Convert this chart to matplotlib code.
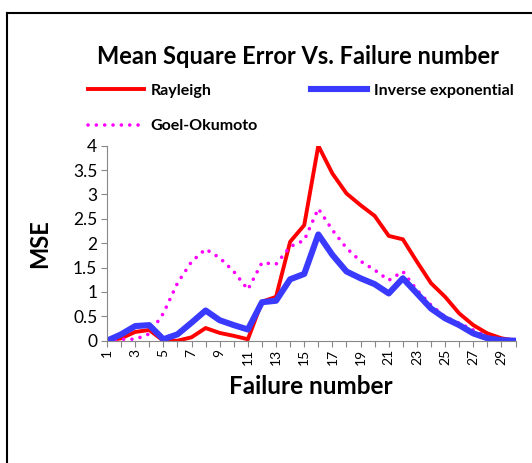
import numpy as np
import matplotlib
matplotlib.use("Agg")
import matplotlib.pyplot as plt
from matplotlib.lines import Line2D

plt.rcParams['font.family'] = ['Lato', 'DejaVu Sans']

failures = list(range(1, 31))
rayleigh = [0, 0.05, 0.18, 0.22, 0, 0, 0.07, 0.26, 0.16, 0.1, 0.03, 0.8, 0.9, 2.03, 2.37, 4.0,
            3.43, 3.02, 2.78, 2.56, 2.15, 2.08, 1.62, 1.18, 0.9, 0.56, 0.32, 0.15, 0.05, 0]
inv_exp = [0, 0.13, 0.3, 0.32, 0.03, 0.13, 0.37, 0.62, 0.42, 0.32, 0.23, 0.79, 0.82, 1.26, 1.37, 2.18,
           1.76, 1.42, 1.28, 1.16, 0.97, 1.28, 0.97, 0.66, 0.46, 0.32, 0.15, 0.05, 0.01, 0]
goel = [0, 0.03, 0.03, 0.14, 0.56, 1.18, 1.62, 1.88, 1.7, 1.42, 1.05, 1.6, 1.57, 1.93, 2.06, 2.71,
        2.27, 1.9, 1.63, 1.45, 1.24, 1.42, 1.04, 0.73, 0.49, 0.36, 0.22, 0.08, 0.03, 0]

fig = plt.figure(figsize=(5.32, 4.63), dpi=100)
ax = fig.add_axes([0.2011, 0.2641, 0.768, 0.4212])

ax.plot(failures, rayleigh, color='#ff0000', lw=2.8, label='Rayleigh')
ax.plot(failures, goel, color='#ff00ff', lw=2.6, linestyle=(0, (0.01, 2.3)),
        dash_capstyle='round', label='Goel-Okumoto')
ax.plot(failures, inv_exp, color='#3a3aff', lw=4.4, label='Inverse exponential')

ax.set_xlim(1, 30)
ax.set_ylim(0, 4)
ax.set_yticks(np.arange(0, 4.01, 0.5))
ax.set_yticklabels(['0', '0.5', '1', '1.5', '2', '2.5', '3', '3.5', '4'])
ax.set_xticks(failures)
ax.set_xticklabels([str(f) if f % 2 == 1 else '' for f in failures], rotation=90, fontsize=10)
ax.tick_params(axis='y', labelsize=12.5, length=4, color='#888888', pad=3)
ax.tick_params(axis='x', length=4, color='#888888', pad=2)

for s in ['top', 'right']:
    ax.spines[s].set_visible(False)
for s in ['left', 'bottom']:
    ax.spines[s].set_color('#888888')

ax.set_ylabel('MSE', fontsize=17, fontweight='bold', labelpad=16)
ax.set_xlabel('Failure number', fontsize=17.5, fontweight='bold', labelpad=7)

fig.text(0.56, 0.879, 'Mean Square Error Vs. Failure number', ha='center', va='center',
         fontsize=17, fontweight='bold')

ax.legend(loc='upper left', bbox_to_anchor=(0.165, 0.82), bbox_transform=fig.transFigure,
          ncol=2, frameon=False, prop={'size': 11.5, 'weight': 'bold'},
          handlelength=3.5, handletextpad=0.45, labelspacing=1.35, columnspacing=3.3,
          borderpad=0, borderaxespad=0)

# chart frame (top and left edges visible)
fig.add_artist(Line2D([6.5 / 532, 6.5 / 532], [0, 1 - 12.5 / 463], color='black', lw=1.5))
fig.add_artist(Line2D([6.5 / 532, 1], [1 - 12.5 / 463, 1 - 12.5 / 463], color='black', lw=1.5))

fig.savefig('out.png', dpi=100)
